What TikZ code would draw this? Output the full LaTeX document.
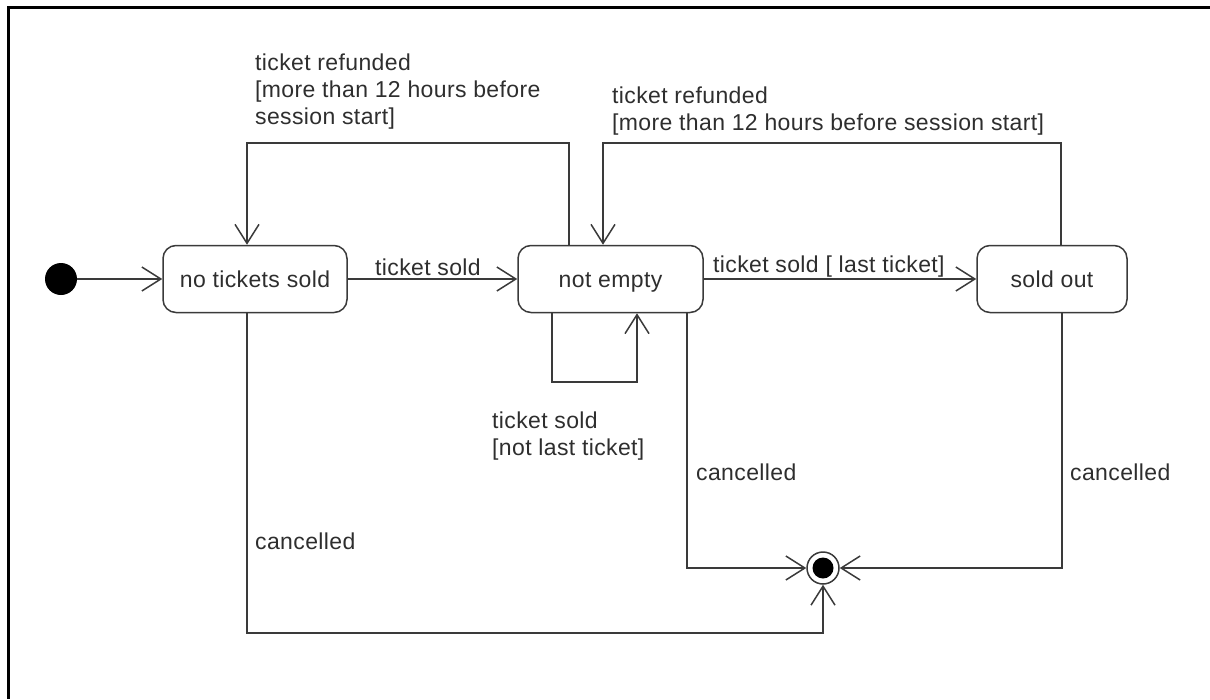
\documentclass[tikz,border=0pt]{standalone}
\usepackage{fontspec}
\setmainfont{Liberation Sans}[LetterSpace=1.6]
\usetikzlibrary{arrows.meta}
\definecolor{ln}{HTML}{3A3A3A}
\definecolor{tx}{HTML}{2E2E2E}
\tikzset{
  statebox/.style={draw=ln, line width=1.5pt, rounded corners=13pt, minimum height=67pt, inner sep=0pt, text=tx, text height=16.5pt, text depth=0pt, font=\fontsize{23}{27}\selectfont},
  conn/.style={draw=ln, line width=1.5pt, -{Straight Barb[length=19pt,width=24pt,line width=1.5pt]}},
  lbl/.style={inner sep=0pt, text=tx, align=left, font=\fontsize{23}{27}\selectfont},
}
\begin{document}
\begin{tikzpicture}[x=1pt,y=-1pt]
\useasboundingbox (0,0) rectangle (1210,699);
\draw[line width=3pt, black] (1210,7) -- (8,7) -- (8,699);

\node[circle, fill=black, minimum size=32pt, inner sep=0pt] (init) at (61,279) {};
\node[statebox, minimum width=184pt] (s1) at (255,279) {no tickets sold};
\node[statebox, minimum width=185pt] (s2) at (610.5,279) {not empty};
\node[statebox, minimum width=150pt] (s3) at (1052,279) {sold out};
\node[circle, draw=ln, line width=1.5pt, minimum size=32pt, inner sep=0pt] (fin) at (823,568) {};
\node[circle, fill=black, minimum size=21pt, inner sep=0pt] (fdot) at (fin) {};

\draw[conn] (init) -- (s1);
\draw[conn] (s1) -- (s2);
\draw[conn] (s2) -- (s3);

% self loop
\draw[conn] (s2.south -| 552,0) -- (552,382) -- (637,382) -- (s2.south -| 637,0);

% refunded loops
\draw[conn] (s2.north -| 569,0) -- (569,143) -- (247,143) -- (s1.north -| 247,0);
\draw[conn] (s3.north -| 1061,0) -- (1061,143) -- (603,143) -- (s2.north -| 603,0);

% cancelled
\draw[conn] (s1.south -| 247,0) -- (247,633) -- (823,633) -- (fin.south);
\draw[conn] (s2.south -| 687,0) -- (687,568) -- (fin.west);
\draw[conn] (s3.south -| 1062,0) -- (1062,568) -- (fin.east);

% labels
\node[lbl, anchor=west] (l1) at (375,267) {ticket sold};
\node[lbl, anchor=west] (l2) at (713,267) {ticket sold [ last ticket]};
\node[lbl, anchor=west] (l3) at (255,92) {ticket refunded\\{[}more than 12 hours before\\session start]};
\node[lbl, anchor=west] (l4) at (612,111) {ticket refunded\\{[}more than 12 hours before session start]};
\node[lbl, anchor=west] (l5) at (492,436) {ticket sold\\{[}not last ticket]};
\node[lbl, anchor=west] (l6) at (696,472) {cancelled};
\node[lbl, anchor=west] (l7) at (1070,472) {cancelled};
\node[lbl, anchor=west] (l8) at (255,541) {cancelled};
\end{tikzpicture}
\end{document}
